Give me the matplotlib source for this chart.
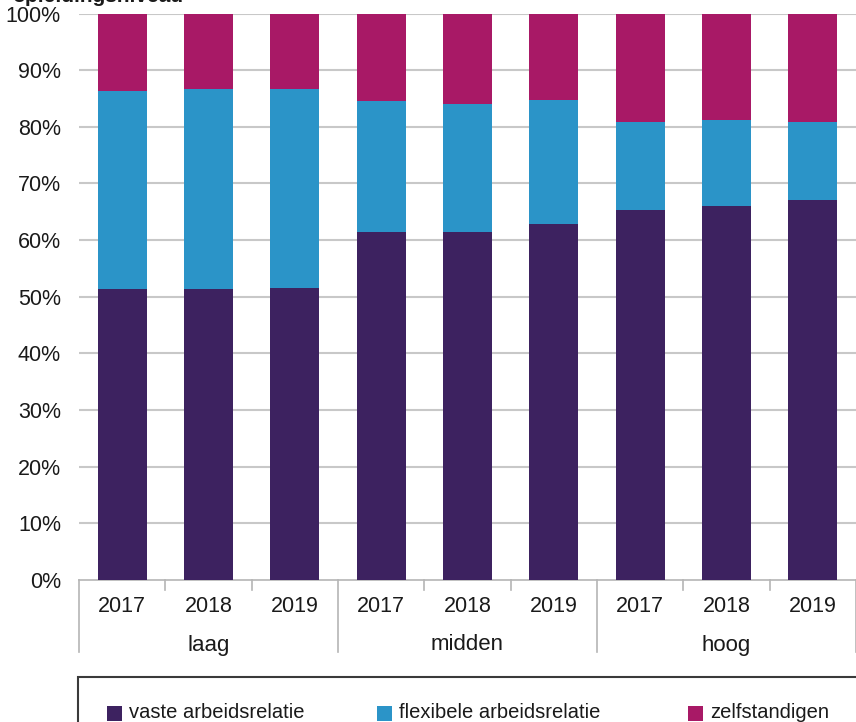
import matplotlib
matplotlib.use("Agg")
import matplotlib.pyplot as plt
from matplotlib.patches import Rectangle
import matplotlib.transforms as mtransforms

groups = ["laag", "midden", "hoog"]
years = ["2017", "2018", "2019"]
series_names = ["vaste arbeidsrelatie", "flexibele arbeidsrelatie", "zelfstandigen"]
vaste = [51.4, 51.4, 51.5, 61.4, 61.4, 62.8, 65.3, 66.0, 67.0]
flexibel = [35.0, 35.3, 35.2, 23.1, 22.7, 21.9, 15.6, 15.2, 13.9]
zelfstandig = [13.6, 13.3, 13.3, 15.5, 15.9, 15.3, 19.1, 18.8, 19.1]
yticks = [0, 10, 20, 30, 40, 50, 60, 70, 80, 90, 100]
colors = ["#3d2260", "#2b94c8", "#a81966"]

W, H = 856, 722
fig = plt.figure(figsize=(W / 100, H / 100), dpi=100)
ax = fig.add_axes([79 / W, 1 - 580 / H, 1 - 79 / W, (580 - 13.5) / H])

reg = ["Liberation Sans", "DejaVu Sans"]

x = list(range(len(vaste)))
bw = 0.57
bottom = [0] * len(x)
for vals, c in zip([vaste, flexibel, zelfstandig], colors):
    ax.bar(x, vals, bw, bottom=bottom, color=c, zorder=3, linewidth=0)
    bottom = [b + v for b, v in zip(bottom, vals)]

ax.set_xlim(-0.5, 8.5)
ax.set_ylim(0, 100)
ax.set_yticks(yticks)
ax.set_yticklabels([f"{t}%" for t in yticks], family=reg, fontsize=15.5, color="#1a1a1a")
ax.tick_params(axis="y", length=0, pad=13)
ax.tick_params(axis="x", length=0, labelbottom=False)
for t in yticks[1:]:
    ax.axhline(t, color="#c8c8c8", lw=1.5, zorder=1)
for s in ["top", "right", "left"]:
    ax.spines[s].set_visible(False)
ax.spines["bottom"].set_color("#b5b5b5")
ax.spines["bottom"].set_linewidth(1.2)

trans = mtransforms.blended_transform_factory(ax.transData, fig.transFigure)
def fy(py):
    return 1 - py / H

for i in x:
    ax.text(i, fy(606), years[i % 3], transform=trans, ha="center", va="center",
            family=reg, fontsize=15.5, color="#1a1a1a")
for g, name in enumerate(groups):
    ax.text(g * 3 + 1, fy(645), name, transform=trans, ha="center", va="center",
            family=reg, fontsize=16, color="#1a1a1a")

for xv in [0.5, 1.5, 3.5, 4.5, 6.5, 7.5]:
    ax.plot([xv, xv], [fy(580), fy(590)], transform=trans, color="#b5b5b5", lw=1.2, clip_on=False)
for xv in [-0.5, 2.5, 5.5, 8.5]:
    ax.plot([xv, xv], [fy(580), fy(652)], transform=trans, color="#b5b5b5", lw=1.2, clip_on=False)

# legend box
fig.patches.append(Rectangle((78 / W, -0.02), 1, (722 - 677) / H + 0.02, transform=fig.transFigure,
                             facecolor="none", edgecolor="#3a3a3a", lw=1.5))
leg_x = [107, 377, 688]
for lx, name, c in zip(leg_x, series_names, colors):
    fig.patches.append(Rectangle((lx / W, fy(721)), 15 / W, 15 / H, transform=fig.transFigure,
                                 facecolor=c, edgecolor="none"))
    fig.text((lx + 22) / W, fy(712), name, ha="left", va="center", family=reg, fontsize=14.5, color="#1a1a1a")

fig.text(12 / W, fy(2), "opleidingsniveau", ha="left", va="baseline", family=reg,
         fontsize=15, fontweight="bold", color="#1a1a1a")

fig.savefig("out.png", dpi=100)
